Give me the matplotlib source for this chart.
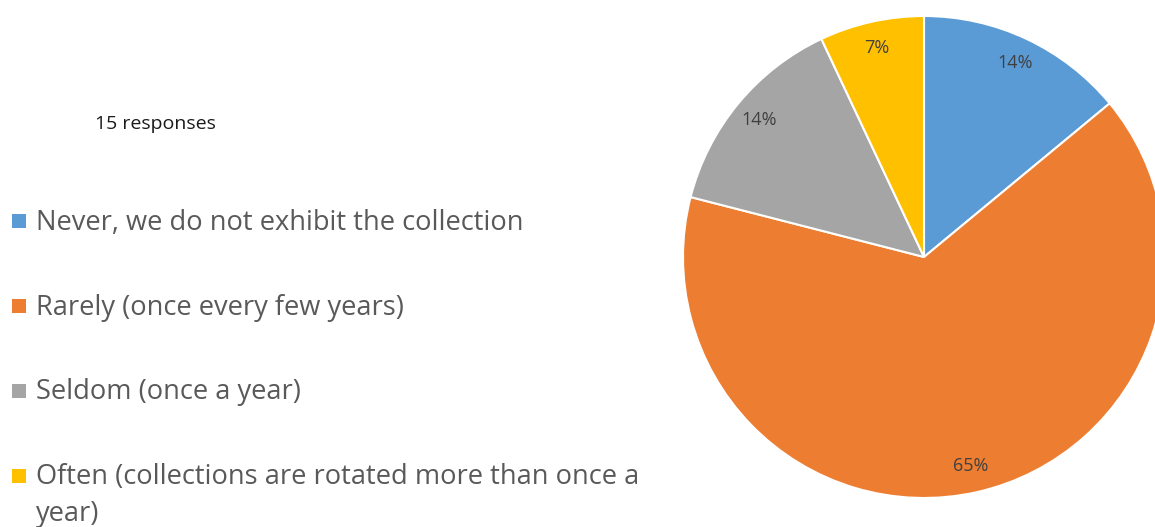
import matplotlib
matplotlib.use("Agg")
import matplotlib.pyplot as plt
from matplotlib.patches import Rectangle

# Survey answers: how often the collection is exhibited
categories = [
    "Never, we do not exhibit the collection",
    "Rarely (once every few years)",
    "Seldom (once a year)",
    "Often (collections are rotated more than once a\nyear)",
]
shares = [14, 65, 14, 7]
colors = ["#5B9BD5", "#ED7D31", "#A5A5A5", "#FFC000"]
note = "15 responses"

W, H = 1155, 527
fig = plt.figure(figsize=(W / 100, H / 100), dpi=100)
ax = fig.add_axes([0, 0, 1, 1])

font = "Open Sans"

ax.pie(
    shares,
    colors=colors,
    startangle=90,
    counterclock=False,
    center=(924, 270),
    radius=241,
    autopct=lambda p: f"{p:.0f}%",
    pctdistance=0.89,
    wedgeprops=dict(edgecolor="white", linewidth=1.5),
    textprops=dict(color="#404040", fontsize=13, family=font),
    frame=True,
)
ax.set_xlim(0, W)
ax.set_ylim(0, H)
ax.set_aspect("equal")
ax.axis("off")

ax.text(95, H - 129, note, fontsize=14, family=font, color="#1a1a1a",
        va="baseline", ha="left")

# Legend drawn at the left
for i, (label, col) in enumerate(zip(categories, colors)):
    yc = H - 221 - 85 * i
    ax.add_patch(Rectangle((12, yc - 7), 14, 14, facecolor=col, edgecolor="none"))
    for j, line in enumerate(label.split("\n")):
        ax.text(36, yc - 8.5 - 37 * j, line, fontsize=19.6, family=font,
                color="#595959", va="baseline", ha="left")

fig.savefig("out.png", dpi=100)
